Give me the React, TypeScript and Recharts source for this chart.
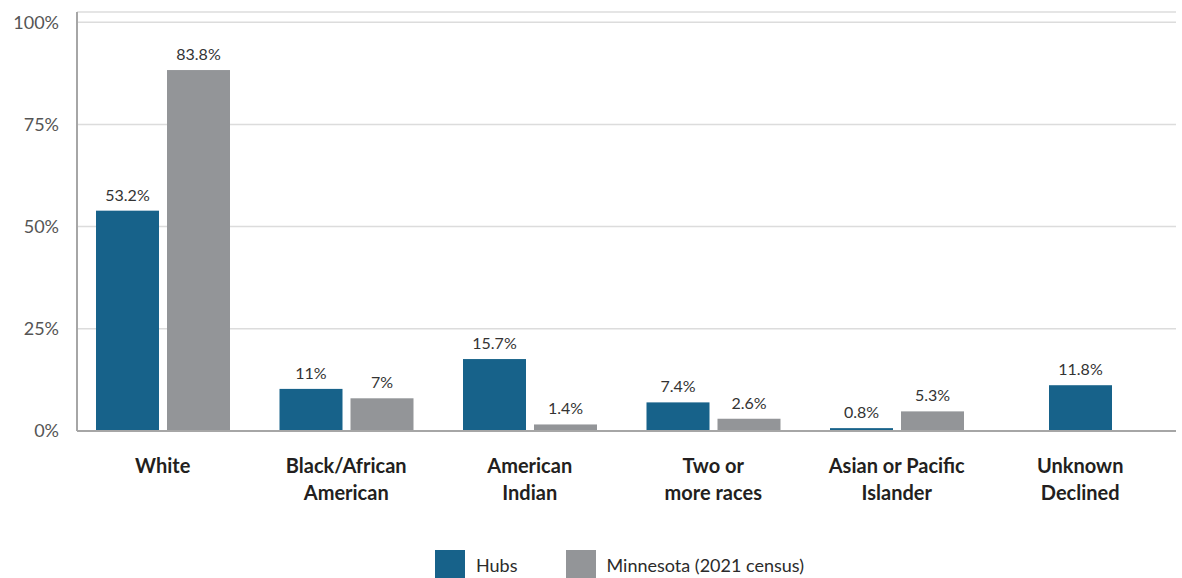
import React from "react";
import { BarChart, Bar, XAxis, YAxis, CartesianGrid, Legend } from "recharts";

const categories = [
  "White",
  "Black/African American",
  "American Indian",
  "Two or more races",
  "Asian or Pacific Islander",
  "Unknown Declined",
];
const categoryLines = [
  ["White"],
  ["Black/African", "American"],
  ["American", "Indian"],
  ["Two or", "more races"],
  ["Asian or Pacific", "Islander"],
  ["Unknown", "Declined"],
];
// bar heights as drawn in the picture (percent)
const hubsValues = [53.9, 10.3, 17.6, 7.0, 0.7, 11.2];
const minnesotaValues: (number | null)[] = [88.3, 8.0, 1.6, 3.0, 4.8, null];
// printed value labels
const hubsLabels = ["53.2%", "11%", "15.7%", "7.4%", "0.8%", "11.8%"];
const minnesotaLabels = ["83.8%", "7%", "1.4%", "2.6%", "5.3%", ""];
const yTicks = [0, 25, 50, 75, 100];
const seriesNames = ["Hubs", "Minnesota (2021 census)"];

const HUBS = "#17628a";
const MINN = "#939598";
const FONT = "Lato, 'Open Sans', sans-serif";
const BAR_GAP = 8;

const data = categories.map((c, i) => ({
  name: c,
  hubs: hubsValues[i],
  minnesota: minnesotaValues[i],
  hubsLabel: hubsLabels[i],
  minnesotaLabel: minnesotaLabels[i],
}));

const makeShape = (color: string, labelKey: string, centerIfAlone: boolean) => (props: any) => {
  const { x, y, width, height, payload } = props;
  if (x == null || height == null || isNaN(height)) return <g />;
  let bx = x;
  if (centerIfAlone && payload && payload.minnesota == null) {
    bx = x + (width + BAR_GAP) / 2;
  }
  return (
    <g>
      <rect x={bx} y={y} width={width} height={Math.max(height, 0)} fill={color} />
      <text
        x={bx + width / 2}
        y={y - 10}
        textAnchor="middle"
        fontFamily={FONT}
        fontSize={16}
        fill="#333333"
      >
        {payload ? payload[labelKey] : ""}
      </text>
    </g>
  );
};

const CategoryTick = (props: any) => {
  const { x, y, payload } = props;
  const idx = categories.indexOf(payload.value);
  const lines = idx >= 0 ? categoryLines[idx] : [payload.value];
  return (
    <text
      x={x}
      y={y}
      textAnchor="middle"
      fontFamily={FONT}
      fontSize={20}
      fontWeight={700}
      fill="#231f20"
    >
      {lines.map((l: string, i: number) => (
        <tspan key={i} x={x} dy={i === 0 ? 34 : 27}>
          {l}
        </tspan>
      ))}
    </text>
  );
};

const LegendContent = () => (
  <div style={{ display: "flex", alignItems: "center", fontFamily: FONT, fontSize: 18, color: "#2b2b2b" }}>
    {seriesNames.map((n, i) => (
      <div key={n} style={{ display: "flex", alignItems: "center", marginRight: i === 0 ? 48 : 0 }}>
        <div style={{ width: 30, height: 30, background: i === 0 ? HUBS : MINN, marginRight: 11 }} />
        <span>{n}</span>
      </div>
    ))}
  </div>
);

export default function App() {
  return (
    <div style={{ position: "absolute", left: 0, top: 0, background: "#ffffff" }}>
      <BarChart
        width={1182}
        height={578}
        data={data}
        margin={{ top: 12, right: 6, left: 0, bottom: 87 }}
        barGap={BAR_GAP}
        barSize={63}
      >
        <CartesianGrid horizontal={true} vertical={false} stroke="#dcdcdc" strokeWidth={1.5} />
        <XAxis
          dataKey="name"
          tick={<CategoryTick />}
          tickLine={false}
          axisLine={{ stroke: "#a6a6a6", strokeWidth: 2 }}
          height={60}
          interval={0}
          padding={{ left: -6, right: 4 }}
        />
        <YAxis
          domain={[0, 102.5]}
          ticks={yTicks}
          tickFormatter={(v: number) => `${v}%`}
          tick={{ fontFamily: FONT, fontSize: 18, fill: "#555555" }}
          tickLine={false}
          tickMargin={12}
          axisLine={{ stroke: "#a6a6a6", strokeWidth: 2 }}
          width={77}
          allowDataOverflow
        />
        <Legend
          layout="horizontal"
          verticalAlign="middle"
          align="center"
          content={<LegendContent />}
          wrapperStyle={{ position: "absolute", top: 550, left: 435, width: 500, height: 30 }}
        />
        <Bar
          dataKey="hubs"
          name={seriesNames[0]}
          fill={HUBS}
          isAnimationActive={false}
          shape={makeShape(HUBS, "hubsLabel", true)}
        />
        <Bar
          dataKey="minnesota"
          name={seriesNames[1]}
          fill={MINN}
          isAnimationActive={false}
          shape={makeShape(MINN, "minnesotaLabel", false)}
        />
      </BarChart>
    </div>
  );
}
